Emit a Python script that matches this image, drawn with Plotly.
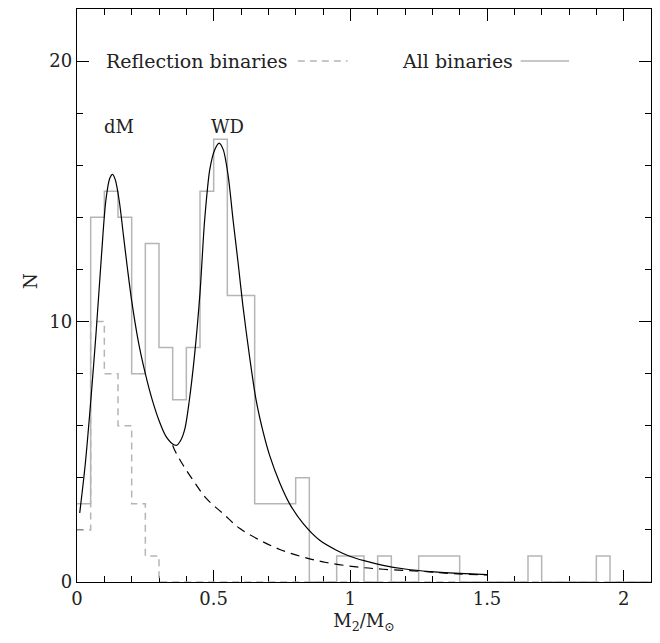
import plotly.graph_objects as go

# ---- data ----
bin_width = 0.05
bin_left = [round(i * bin_width, 2) for i in range(42)]
all_counts = [3, 14, 15, 14, 8, 13, 9, 7, 9, 15, 17, 11, 11, 3, 3, 3, 4, 0, 0, 1,
              1, 0, 1, 0, 0, 1, 1, 1, 0, 0, 0, 0, 0, 1, 0, 0, 0, 0, 1, 0, 0, 0]
refl_counts = [2, 10, 8, 6, 3, 1] + [0] * 36

fit_x = [0.01, 0.03, 0.05, 0.07, 0.09, 0.105, 0.12, 0.13, 0.14, 0.155, 0.17, 0.185,
         0.2, 0.225, 0.25, 0.275, 0.3, 0.325, 0.35, 0.365, 0.38, 0.395, 0.41, 0.43,
         0.45, 0.467, 0.486, 0.504, 0.52, 0.535, 0.553, 0.571, 0.59, 0.607, 0.632,
         0.655, 0.68, 0.705, 0.742, 0.778, 0.827, 0.888, 0.949, 1.0, 1.05, 1.12,
         1.2, 1.29, 1.4, 1.5]
fit_y = [2.65, 4.5, 6.9, 9.6, 12.6, 14.6, 15.5, 15.65, 15.45, 14.6, 13.3, 12.0,
         10.8, 9.2, 8.0, 7.0, 6.2, 5.6, 5.3, 5.25, 5.45, 5.9, 6.9, 8.7,
         11.1, 13.9, 15.85, 16.6, 16.85, 16.6, 15.6, 13.9, 12.2, 10.6, 8.6,
         7.0, 5.8, 4.85, 3.8, 3.0, 2.25, 1.6, 1.22, 0.98, 0.82, 0.64,
         0.5, 0.4, 0.33, 0.28]

dm_tail_x = [0.35, 0.357, 0.388, 0.424, 0.473, 0.534, 0.595, 0.668, 0.742, 0.827,
             0.912, 1.022, 1.12, 1.29, 1.376, 1.5]
dm_tail_y = [5.25, 5.07, 4.49, 3.92, 3.21, 2.63, 2.06, 1.61, 1.25, 0.96,
             0.75, 0.58, 0.49, 0.39, 0.32, 0.27]

x_ticks = [0, 0.5, 1, 1.5, 2]
x_tick_text = ["0", "0.5", "1", "1.5", "2"]
y_ticks = [0, 10, 20]
y_tick_text = ["0", "10", "20"]

FONT = "DejaVu Serif"
GRAY = "#b5b5b5"
TXT = "#222222"

edges = bin_left + [round(len(bin_left) * bin_width, 2)]

fig = go.Figure()
fig.add_trace(go.Scatter(x=edges, y=all_counts + [all_counts[-1]], mode="lines",
                         line=dict(color=GRAY, width=1.5, shape="hv"),
                         showlegend=False, hoverinfo="skip"))
fig.add_trace(go.Scatter(x=edges, y=refl_counts + [refl_counts[-1]], mode="lines",
                         line=dict(color=GRAY, width=1.5, shape="hv", dash="7px,5px"),
                         showlegend=False, hoverinfo="skip"))
fig.add_trace(go.Scatter(x=dm_tail_x, y=dm_tail_y, mode="lines",
                         line=dict(color="black", width=1.2, dash="9px,6px", shape="spline"),
                         showlegend=False, hoverinfo="skip"))
fig.add_trace(go.Scatter(x=fit_x, y=fit_y, mode="lines",
                         line=dict(color="black", width=1.2, shape="spline", smoothing=0.8),
                         showlegend=False, hoverinfo="skip"))

# legend-like labels
fig.add_annotation(x=0.10, y=20, xref="x", yref="y", text="Reflection binaries",
                   showarrow=False, xanchor="left", yanchor="middle",
                   font=dict(family=FONT, size=19, color=TXT))
fig.add_shape(type="line", x0=0.808, x1=0.99, y0=20, y1=20, xref="x", yref="y",
              line=dict(color=GRAY, width=1.5, dash="7px,5px"))
fig.add_annotation(x=1.18, y=20, xref="x", yref="y", text="All binaries",
                   showarrow=False, xanchor="left", yanchor="middle",
                   font=dict(family=FONT, size=19, color=TXT))
fig.add_shape(type="line", x0=1.623, x1=1.80, y0=20, y1=20, xref="x", yref="y",
              line=dict(color=GRAY, width=1.5))

fig.add_annotation(x=0.152, y=17.5, xref="x", yref="y", text="dM", showarrow=False,
                   font=dict(family=FONT, size=18, color=TXT))
fig.add_annotation(x=0.551, y=17.5, xref="x", yref="y", text="WD", showarrow=False,
                   font=dict(family=FONT, size=18, color=TXT))

# y-axis title placed as rotated text
fig.add_annotation(x=-0.082, y=0.525, xref="paper", yref="paper", text="N",
                   showarrow=False, textangle=-90, xanchor="center", yanchor="middle",
                   font=dict(family=FONT, size=18, color=TXT))

axis_common = dict(showgrid=False, zeroline=False, showline=True, linecolor="black",
                   linewidth=1.3, mirror="ticks", ticks="inside", tickcolor="black",
                   tickwidth=1.2, layer="below traces",
                   tickfont=dict(family=FONT, size=18, color=TXT))

fig.update_xaxes(range=[0, 2.1], tickvals=x_ticks, ticktext=x_tick_text, ticklen=12,
                 minor=dict(dtick=0.1, ticks="inside", ticklen=6, tickcolor="black", tickwidth=1.2),
                 title=dict(text="M<sub>2</sub>/M<sub>⊙</sub>",
                            font=dict(family=FONT, size=18, color=TXT), standoff=6),
                 **axis_common)
fig.update_yaxes(range=[0, 22], tickvals=y_ticks, ticktext=y_tick_text, ticklen=12,
                 minor=dict(dtick=2, ticks="inside", ticklen=6, tickcolor="black", tickwidth=1.2),
                 **axis_common)

fig.update_layout(width=660, height=643, margin=dict(l=77, r=9, t=9, b=61),
                  plot_bgcolor="white", paper_bgcolor="white")

fig.write_html("out.html")
